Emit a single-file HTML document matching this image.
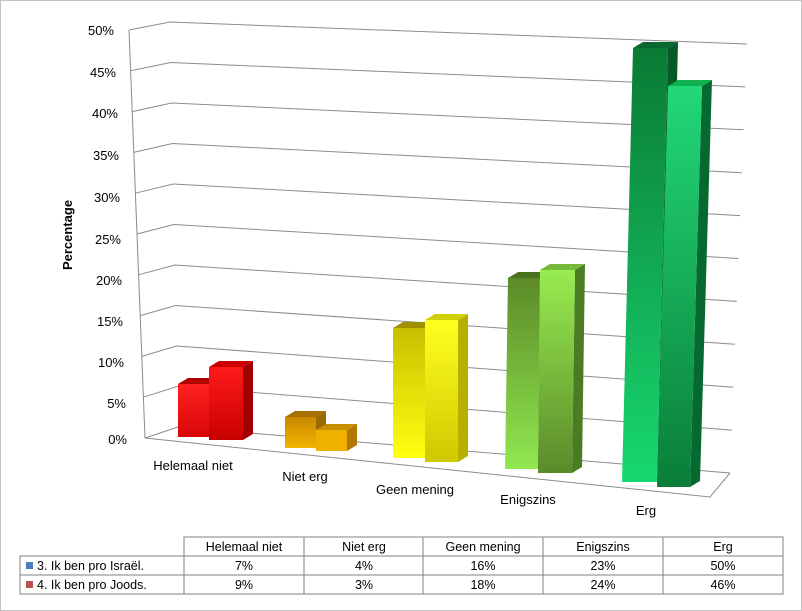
<!DOCTYPE html>
<html><head><meta charset="utf-8"><style>
html,body{margin:0;padding:0;background:#fff}
svg{display:block;font-family:"Liberation Sans",sans-serif}
</style></head><body>
<svg width="802" height="611" viewBox="0 0 802 611" xmlns="http://www.w3.org/2000/svg">
<defs>
<linearGradient id="rg1" x1="0" y1="0" x2="0" y2="1"><stop offset="0" stop-color="#ff2020"/><stop offset="1" stop-color="#d80808"/></linearGradient>
<linearGradient id="rg2" x1="0" y1="0" x2="0" y2="1"><stop offset="0" stop-color="#ff1a1a"/><stop offset="1" stop-color="#c80000"/></linearGradient>
<linearGradient id="og1" x1="0" y1="0" x2="0" y2="1"><stop offset="0" stop-color="#c88800"/><stop offset="1" stop-color="#f0b400"/></linearGradient>
<linearGradient id="yg1" x1="0" y1="0" x2="0" y2="1"><stop offset="0" stop-color="#c8c000"/><stop offset="1" stop-color="#ffff10"/></linearGradient>
<linearGradient id="yg2" x1="0" y1="0" x2="0" y2="1"><stop offset="0" stop-color="#ffff20"/><stop offset="1" stop-color="#d0c800"/></linearGradient>
<linearGradient id="eg1" x1="0" y1="0" x2="0" y2="1"><stop offset="0" stop-color="#5c8a28"/><stop offset="1" stop-color="#90e850"/></linearGradient>
<linearGradient id="eg2" x1="0" y1="0" x2="0" y2="1"><stop offset="0" stop-color="#98ec50"/><stop offset="1" stop-color="#5a8a2a"/></linearGradient>
<linearGradient id="gg1" x1="0" y1="0" x2="0" y2="1"><stop offset="0" stop-color="#0a7a34"/><stop offset="1" stop-color="#18d870"/></linearGradient>
<linearGradient id="gg2" x1="0" y1="0" x2="0" y2="1"><stop offset="0" stop-color="#22d878"/><stop offset="1" stop-color="#0a7e38"/></linearGradient>
</defs>
<rect x="0.5" y="0.5" width="801" height="610" fill="#fff" stroke="#888" stroke-dasharray="1,1"/>
<g stroke="#8c8c8c" stroke-width="1" fill="none">
<polyline points="129,30 170,22 747,44"/>
<polyline points="130.6,70.8 170.8,62.5 745.3,86.9"/>
<polyline points="132.2,111.6 171.6,103 743.6,129.8"/>
<polyline points="133.8,152.4 172.4,143.5 741.9,172.7"/>
<polyline points="135.4,193.2 173.2,184 740.2,215.6"/>
<polyline points="137,234 174,224.5 738.5,258.5"/>
<polyline points="138.6,274.8 174.8,265 736.8,301.4"/>
<polyline points="140.2,315.6 175.6,305.5 735.1,344.3"/>
<polyline points="141.8,356.4 176.4,346 733.4,387.2"/>
<polyline points="143.4,397.2 177.2,386.5 731.7,430.1"/>
<polyline points="145,438 178,427 730,473"/>
<line x1="129" y1="30" x2="145" y2="438"/>
<polyline points="145,438 710,497 730,473"/>
</g>
<g font-size="13" fill="#000" text-anchor="end">
<text x="114" y="35">50%</text><text x="116" y="77">45%</text><text x="118" y="118">40%</text><text x="119" y="160">35%</text><text x="120" y="202">30%</text><text x="121" y="244">25%</text><text x="122" y="285">20%</text><text x="123" y="326">15%</text><text x="124" y="367">10%</text><text x="126" y="408">5%</text><text x="127" y="444">0%</text>
</g>
<text transform="translate(72,235) rotate(-90)" text-anchor="middle" font-size="13" font-weight="bold">Percentage</text>
<g>
<polygon fill="#a00000" points="209,384 219,378 219,431 209,437"/>
<polygon fill="#b00000" points="178,384 188,378 219,378 209,384"/>
<polygon fill="url(#rg1)" points="178,384 209,384 209,437 178,437"/>
<polygon fill="#a00000" points="243,367 253,361 253,434 243,440"/>
<polygon fill="#cc0000" points="209,367 219,361 253,361 243,367"/>
<polygon fill="url(#rg2)" points="209,367 243,367 243,440 209,440"/>

<polygon fill="#9a6a00" points="316,417 326,411 326,442 316,448"/>
<polygon fill="#a87000" points="285,417 295,411 326,411 316,417"/>
<polygon fill="url(#og1)" points="285,417 316,417 316,448 285,448"/>
<polygon fill="#b07800" points="347,430 357,424 357,445 347,451"/>
<polygon fill="#c89000" points="316,430 326,424 357,424 347,430"/>
<polygon fill="#f0b000" points="316,430 347,430 347,451 316,451"/>

<polygon fill="#a8a000" points="425,328 435,322 435,452 425,458"/>
<polygon fill="#a09000" points="393,328 403,322 435,322 425,328"/>
<polygon fill="url(#yg1)" points="393,328 425,328 425,458 393,458"/>
<polygon fill="#b8b000" points="458,320 468,314 468,456 458,462"/>
<polygon fill="#d0d000" points="425,320 435,314 468,314 458,320"/>
<polygon fill="url(#yg2)" points="425,320 458,320 458,462 425,462"/>

<polygon fill="#4a7a20" points="540,278 550,272 548,463 538,469"/>
<polygon fill="#4a7020" points="508,278 518,272 550,272 540,278"/>
<polygon fill="url(#eg1)" points="508,278 540,278 538,469 505,469"/>
<polygon fill="#4c7c22" points="575,270 585,264 582,467 572,473"/>
<polygon fill="#78b838" points="540,270 550,264 585,264 575,270"/>
<polygon fill="url(#eg2)" points="540,270 575,270 572,473 538,473"/>

<polygon fill="#055a28" points="668,48 678,42 667,476 657,482"/>
<polygon fill="#086830" points="633,48 643,42 678,42 668,48"/>
<polygon fill="url(#gg1)" points="633,48 668,48 657,482 622,482"/>
<polygon fill="#066a30" points="702,86 712,80 700,481 690,487"/>
<polygon fill="#10b050" points="668,86 678,80 712,80 702,86"/>
<polygon fill="url(#gg2)" points="668,86 702,86 690,487 657,487"/>
</g>
<g font-size="13" text-anchor="middle">
<text x="193" y="470">Helemaal niet</text>
<text x="305" y="481">Niet erg</text>
<text x="415" y="494">Geen mening</text>
<text x="528" y="504">Enigszins</text>
<text x="646" y="515">Erg</text>
</g>
<g stroke="#808080" fill="none">
<polyline points="184,556 184,537 783,537 783,594 20,594 20,556 783,556"/>
<line x1="20" y1="575" x2="783" y2="575"/>
<line x1="304" y1="537" x2="304" y2="594"/><line x1="423" y1="537" x2="423" y2="594"/><line x1="543" y1="537" x2="543" y2="594"/><line x1="663" y1="537" x2="663" y2="594"/><line x1="184" y1="556" x2="184" y2="594"/>
</g>
<rect x="26" y="562" width="7" height="7" fill="#4a7ebb"/>
<rect x="26" y="581" width="7" height="7" fill="#c0504d"/>
<g font-size="12.5" text-anchor="middle">
<text x="244" y="551">Helemaal niet</text><text x="364" y="551">Niet erg</text><text x="483" y="551">Geen mening</text><text x="603" y="551">Enigszins</text><text x="723" y="551">Erg</text>
<text x="244" y="570">7%</text><text x="364" y="570">4%</text><text x="483" y="570">16%</text><text x="603" y="570">23%</text><text x="723" y="570">50%</text>
<text x="244" y="589">9%</text><text x="364" y="589">3%</text><text x="483" y="589">18%</text><text x="603" y="589">24%</text><text x="723" y="589">46%</text>
</g>
<g font-size="12.5">
<text x="37" y="570">3. Ik ben pro Israël.</text>
<text x="37" y="589">4. Ik ben pro Joods.</text>
</g>
</svg>
</body></html>
